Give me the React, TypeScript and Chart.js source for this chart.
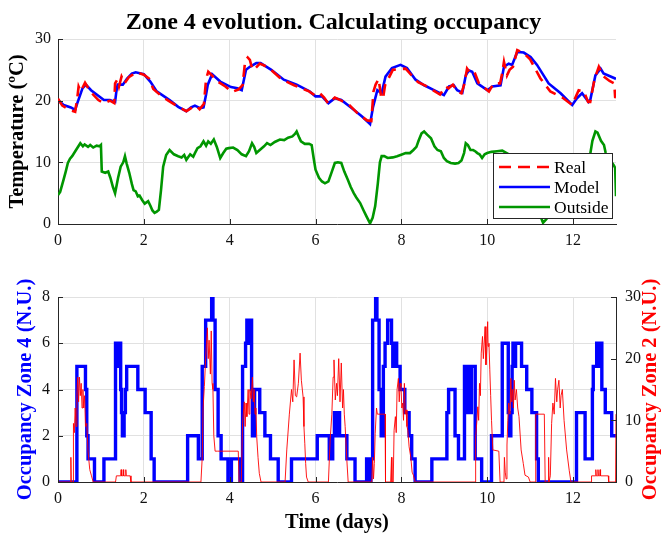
import React, { useEffect, useRef } from "react";
import { Chart, registerables } from "chart.js";

Chart.register(...registerables);

const FONT = "'Liberation Serif', 'Times New Roman', Times, serif";

// ---------- Top plot: temperatures (days, ºC) ----------
const modelDays = [
  0, 0.13, 0.3, 0.4, 0.45, 0.57, 0.65, 0.77, 0.9, 1.07,
  1.21, 1.33, 1.36, 1.39, 1.51, 1.61, 1.72, 1.81, 2.0, 2.15,
  2.3, 2.6, 2.8, 2.99, 3.1, 3.19, 3.31, 3.39, 3.45, 3.49,
  3.59, 3.78, 4.03, 4.18, 4.28, 4.38, 4.47, 4.62, 4.72, 4.97,
  5.26, 5.56, 5.86, 6.0, 6.15, 6.3, 6.45, 6.6, 6.84, 7.09,
  7.24, 7.27, 7.34, 7.44, 7.54, 7.63, 7.78, 7.98, 8.13, 8.33,
  8.53, 8.76, 8.99, 9.11, 9.22, 9.3, 9.42, 9.5, 9.57, 9.65,
  9.77, 10.0, 10.12, 10.31, 10.39, 10.5, 10.58, 10.7, 10.85, 11.01,
  11.16, 11.43, 11.71, 11.98, 12.09, 12.21, 12.36, 12.4, 12.52, 12.64,
  12.71, 12.98, 13.0,
];
const modelTemp = [
  20.1, 19.3, 18.9, 18.5, 19.6, 22.0, 22.6, 21.7, 21.0, 20.1,
  20.1, 19.8, 21.5, 22.6, 22.6, 23.6, 24.4, 24.6, 24.3, 23.1,
  21.5, 20.1, 19.0, 18.3, 18.9, 19.2, 18.8, 18.9, 21.0, 22.6,
  24.3, 23.1, 22.2, 22.0, 21.7, 25.0, 25.5, 26.1, 26.1, 25.0,
  23.4, 22.6, 21.5, 20.7, 20.7, 19.6, 20.4, 20.1, 18.8, 17.4,
  16.4, 16.2, 19.0, 21.7, 21.2, 23.9, 25.3, 25.8, 25.3, 23.4,
  22.5, 21.7, 20.9, 22.3, 22.5, 21.7, 21.3, 24.1, 24.9, 24.7,
  22.8, 21.7, 22.3, 22.5, 25.5, 26.0, 25.8, 27.9, 27.8, 27.1,
  25.8, 22.8, 21.2, 19.3, 20.4, 21.2, 19.8, 20.1, 24.1, 25.2,
  24.4, 23.6, 23.5,
];

const realDays = [
  0, 0.1, 0.3, 0.4, 0.45, 0.48, 0.53, 0.63, 0.75, 0.94,
  1.07, 1.21, 1.31, 1.33, 1.38, 1.42, 1.48, 1.55, 1.65, 1.83,
  2.0, 2.12, 2.22, 2.4, 2.57, 2.8, 2.99, 3.15, 3.22, 3.3,
  3.4, 3.45, 3.5, 3.57, 3.74, 3.9, 4.05, 4.2, 4.3, 4.36,
  4.42, 4.47, 4.53, 4.59, 4.7, 4.9, 5.2, 5.5, 5.85, 6.0,
  6.1, 6.2, 6.3, 6.45, 6.6, 6.77, 7.0, 7.2, 7.3, 7.35,
  7.4, 7.47, 7.53, 7.57, 7.62, 7.8, 8.1, 8.25, 8.39, 8.6,
  8.9, 9.03, 9.1, 9.2, 9.3, 9.4, 9.47, 9.53, 9.6, 9.7,
  9.8, 10.04, 10.15, 10.3, 10.35, 10.39, 10.46, 10.52, 10.6, 10.7,
  10.85, 11.0, 11.24, 11.47, 11.75, 11.98, 12.13, 12.25, 12.35, 12.4,
  12.5, 12.6, 12.7, 12.85, 12.96, 12.98, 13.0,
];
const realTemp = [
  20.3, 19.2, 18.4, 18.2, 20.5, 22.3, 21.5, 22.9, 21.5, 20.1,
  19.6, 20.0, 19.6, 22.8, 23.4, 22.3, 23.9, 22.8, 23.8, 24.6,
  24.2, 23.6, 21.9, 20.8, 20.0, 19.0, 18.3, 19.0, 19.2, 18.6,
  19.5, 23.5, 24.7, 24.2, 23.0, 22.3, 21.4, 21.8, 22.5, 26.4,
  27.0, 26.6, 25.0, 25.2, 26.0, 25.4, 23.5, 22.5, 21.5, 20.8,
  21.2, 20.5, 19.5, 20.5, 20.0, 19.4, 17.8, 16.8, 16.7, 21.5,
  22.6, 23.5, 20.5, 20.3, 22.5, 25.0, 25.2, 24.0, 23.0, 22.3,
  21.0, 22.3, 22.0, 22.6, 21.5, 21.2, 22.8, 25.2, 24.5, 24.7,
  22.9, 21.5, 22.8, 22.8, 24.5, 26.3, 24.1, 25.0, 25.5, 28.2,
  27.7, 26.7, 23.6, 21.5, 20.5, 19.3, 21.7, 21.5, 19.8, 19.8,
  23.5, 25.5, 24.0, 23.2, 22.8, 20.6, 20.5,
];

const outsideDays = [
  0, 0.05, 0.13, 0.18, 0.23, 0.28, 0.33, 0.42, 0.52, 0.58,
  0.62, 0.7, 0.75, 0.82, 0.9, 0.97, 1.0, 1.02, 1.1, 1.17,
  1.22, 1.28, 1.33, 1.4, 1.46, 1.52, 1.56, 1.6, 1.66, 1.72,
  1.76, 1.81, 1.86, 1.9, 1.96, 2.02, 2.1, 2.15, 2.2, 2.25,
  2.3, 2.35, 2.4, 2.45, 2.52, 2.6, 2.7, 2.8, 2.88, 2.94,
  2.99, 3.08, 3.15, 3.19, 3.25, 3.32, 3.39, 3.45, 3.5, 3.56,
  3.63, 3.7, 3.78, 3.85, 3.92, 3.98, 4.08, 4.18, 4.28, 4.38,
  4.45, 4.52, 4.57, 4.62, 4.7, 4.8, 4.87, 4.95, 5.05, 5.17,
  5.27, 5.36, 5.46, 5.52, 5.56, 5.62, 5.66, 5.75, 5.85, 5.91,
  5.96, 6.0, 6.08, 6.15, 6.22, 6.3, 6.38, 6.45, 6.52, 6.6,
  6.67, 6.75, 6.82, 6.89, 6.95, 7.04, 7.12, 7.19, 7.27, 7.33,
  7.39, 7.45, 7.5, 7.54, 7.6, 7.68, 7.8, 7.9, 7.98, 8.1,
  8.2, 8.28, 8.35, 8.4, 8.47, 8.53, 8.6, 8.69, 8.77, 8.84,
  8.92, 8.99, 9.06, 9.15, 9.25, 9.33, 9.4, 9.46, 9.5, 9.55,
  9.61, 9.67, 9.72, 9.77, 9.82, 9.88, 9.94, 10.0, 10.1, 10.23,
  10.35, 10.5, 10.7, 10.9, 11.1, 11.2, 11.3, 11.38, 11.5, 11.7,
  11.9, 12.1, 12.3, 12.38, 12.45, 12.52, 12.57, 12.65, 12.72, 12.76,
  12.82, 12.88, 12.95, 12.98, 13.0,
];
const outsideTemp = [
  4.7, 5.2, 7.2, 8.5, 9.9, 10.6, 11.0, 12.0, 13.1, 12.6,
  12.9, 12.5, 12.8, 12.4, 12.7, 12.6, 12.8, 8.5, 8.3, 8.5,
  7.5, 6.0, 5.0, 7.5, 9.3, 10.0, 11.0, 9.8, 8.3, 6.5,
  5.5, 5.3, 4.5, 4.6, 3.9, 3.3, 3.7, 3.0, 2.2, 1.8,
  2.0, 2.3, 5.5, 9.3, 11.2, 12.0, 11.3, 11.0, 10.8, 11.2,
  10.4, 11.3, 10.9, 11.5, 12.3, 12.6, 13.4, 12.7, 13.4, 13.0,
  13.7, 12.5, 10.7, 11.5, 12.2, 12.3, 12.4, 12.0, 11.3, 11.0,
  11.8, 13.1, 12.5, 11.5, 12.0, 12.6, 13.1, 12.8, 13.3, 13.7,
  13.6, 14.0, 14.2, 14.6, 15.0, 14.0, 13.4, 13.0, 13.0, 12.8,
  10.5, 8.8, 7.5, 6.9, 6.6, 6.9, 8.5, 9.9, 10.0, 9.9,
  8.5, 7.2, 6.0, 5.0, 4.3, 3.4, 2.2, 1.2, 0.1, 1.0,
  2.9, 6.5, 10.0, 11.0, 11.0, 10.7, 10.8, 11.0, 11.2, 11.5,
  11.5, 12.0, 12.5, 13.5, 14.7, 15.0, 14.5, 13.9, 12.6, 12.0,
  11.8, 10.7, 10.2, 9.9, 9.8, 9.9, 10.3, 11.5, 13.1, 12.8,
  12.0, 12.0, 11.8, 11.5, 11.3, 10.7, 11.3, 11.5, 11.7, 11.8,
  11.9, 11.3, 9.5, 7.0, 4.0, 2.0, 0.2, 0.8, 3.0, 5.5,
  7.5, 8.8, 9.5, 10.5, 13.5, 15.0, 14.8, 13.5, 12.8, 11.5,
  10.8, 10.2, 9.5, 9.1, 4.5,
];

// ---------- Bottom plot: occupancies ----------
// Zone 4: value holds from each change time until the next one
const zone4Days = [
  0, 0.44, 0.64, 0.67, 0.7, 0.85, 1.07, 1.34, 1.37, 1.39,
  1.42, 1.44, 1.46, 1.48, 1.5, 1.54, 1.57, 1.6, 1.86, 2.03,
  2.17, 2.24, 3.02, 3.27, 3.36, 3.44, 3.58, 3.61, 3.66, 3.73,
  3.8, 3.96, 4.04, 4.24, 4.3, 4.37, 4.4, 4.47, 4.49, 4.51,
  4.53, 4.58, 4.7, 4.82, 4.95, 5.13, 5.44, 6.04, 6.32, 6.4,
  6.44, 6.48, 6.52, 6.56, 6.73, 6.92, 7.19, 7.22, 7.24, 7.27,
  7.29, 7.33, 7.4, 7.43, 7.48, 7.53, 7.58, 7.62, 7.68, 7.77,
  7.8, 7.82, 7.84, 7.86, 7.89, 7.97, 8.08, 8.18, 8.24, 8.32,
  8.71, 9.06, 9.1, 9.25, 9.33, 9.47, 9.5, 9.52, 9.55, 9.58,
  9.6, 9.63, 9.72, 9.87, 10.1, 10.35, 10.49, 10.52, 10.55, 10.58,
  10.6, 10.64, 10.66, 10.8, 10.92, 11.04, 11.15, 11.19, 12.08, 12.28,
  12.45, 12.47, 12.55, 12.58, 12.61, 12.67, 12.75, 12.9, 13.0,
];
const zone4Occ = [
  0, 5, 4, 2, 1, 0, 1, 6, 5, 6,
  5, 6, 4, 3, 2, 3, 4, 5, 4, 3,
  1, 0, 2, 1, 5, 7, 8, 7, 4, 2,
  1, 0, 1, 0, 5, 6, 7, 6, 7, 4,
  2, 4, 3, 2, 1, 0, 1, 2, 1, 2,
  3, 2, 3, 2, 1, 0, 1, 0, 1, 0,
  1, 7, 8, 7, 4, 2, 5, 6, 7, 6,
  5, 6, 5, 6, 5, 4, 3, 2, 1, 0,
  1, 3, 4, 2, 1, 5, 3, 5, 3, 5,
  3, 5, 1, 0, 2, 6, 3, 2, 3, 5,
  6, 5, 6, 5, 4, 3, 1, 0, 3, 1,
  4, 5, 6, 5, 6, 4, 3, 2, 2,
];

const zone2Days = [
  0, 0.28, 0.3, 0.31, 0.35, 0.36, 0.38, 0.4, 0.42, 0.44,
  0.46, 0.48, 0.5, 0.52, 0.54, 0.56, 0.58, 0.6, 0.62, 0.64,
  0.67, 0.7, 0.74, 0.78, 0.82, 1.34, 1.36, 1.46, 1.47, 1.48,
  1.51, 1.52, 1.53, 1.57, 1.58, 1.59, 1.68, 1.7, 3.33, 3.36,
  3.38, 3.41, 3.44, 3.46, 3.48, 3.5, 3.52, 3.55, 3.57, 3.59,
  3.61, 3.63, 3.66, 3.72, 4.2, 4.22, 4.27, 4.3, 4.34, 4.36,
  4.38, 4.4, 4.43, 4.45, 4.47, 4.5, 4.53, 4.55, 4.57, 4.59,
  4.61, 4.63, 4.66, 4.69, 4.73, 5.29, 5.33, 5.39, 5.44, 5.47,
  5.5, 5.53, 5.56, 5.6, 5.64, 5.67, 5.71, 5.73, 5.75, 5.77,
  5.79, 5.83, 6.3, 6.34, 6.38, 6.41, 6.43, 6.46, 6.49, 6.51,
  6.54, 6.57, 6.6, 6.63, 6.65, 6.67, 6.69, 6.73, 6.76, 7.31,
  7.33, 7.35, 7.37, 7.39, 7.42, 7.44, 7.62, 7.63, 7.75, 7.77,
  7.78, 7.81, 7.83, 7.86, 7.88, 7.9, 7.93, 7.95, 7.97, 7.99,
  8.01, 8.03, 8.05, 8.07, 8.09, 8.11, 8.13, 8.15, 8.18, 8.22,
  8.25, 8.28, 8.32, 9.72, 9.73, 9.76, 9.78, 9.8, 9.82, 9.84,
  9.86, 9.89, 9.91, 9.93, 9.95, 9.97, 9.99, 10.01, 10.02, 10.04,
  10.06, 10.08, 10.1, 10.13, 10.27, 10.3, 10.39, 10.4, 10.42, 10.44,
  10.46, 10.48, 10.5, 10.53, 10.55, 10.57, 10.59, 10.61, 10.63, 10.65,
  10.68, 10.71, 10.74, 10.79, 10.84, 10.88, 10.96, 11.0, 11.12, 11.13,
  11.33, 11.35, 11.42, 11.43, 11.44, 11.47, 11.5, 11.53, 11.56, 11.59,
  11.62, 11.64, 11.67, 11.7, 11.72, 11.75, 11.79, 11.85, 11.91, 11.95,
  12.42, 12.43, 12.52, 12.53, 12.54, 12.57, 12.58, 12.59, 12.62, 12.63,
  12.64, 12.82, 12.83, 12.99, 13.0,
];
const zone2Occ = [
  0, 0, 4, 0, 0, 9.5, 8, 12, 9, 14,
  17, 13, 17, 14, 16, 12, 15, 12, 14, 9,
  9.5, 5, 2, 1, 0, 0, 1, 1, 2, 1,
  1, 2, 1, 1, 2, 1, 1, 0, 0, 4,
  12, 15.5, 20, 22.5, 25, 20, 23, 17.5, 24.5, 16,
  15, 7.5, 5, 5, 5, 0, 0, 9.5, 13, 9,
  12.8, 10.6, 15, 11, 15, 13.5, 17, 13, 15, 11,
  12, 7.3, 4, 1.4, 0, 0, 5.2, 11, 15, 13,
  19.8, 14, 13.8, 16, 20.9, 16.5, 13.8, 9, 6.2, 3,
  0.8, 0, 0, 6.8, 11, 17, 19.8, 13.3, 16, 14,
  20, 13, 19.3, 12, 15, 11, 9, 3.5, 0, 0,
  4, 0.5, 3, 7.9, 12, 11, 11, 0, 0, 4,
  0, 0, 8.4, 10.6, 8, 15, 16.8, 13, 16, 15.5,
  12, 12.8, 10, 16, 11, 11.7, 9, 8.4, 5.7, 4,
  1.6, 1.1, 0, 0, 7.3, 10, 12.2, 10, 16, 14,
  20.9, 23.6, 20, 22.5, 25.2, 19, 21.4, 26, 22, 22.5,
  18.2, 14, 10, 5.2, 5, 0, 0, 4, 1.6, 0.5,
  6, 10, 12.8, 11, 16.8, 13, 15, 12, 16.5, 13.3,
  15, 12, 10.6, 5.2, 3, 1.1, 0.8, 0, 0, 11,
  11, 0, 0, 4, 0, 1, 9.5, 12.8, 11, 16.8,
  13, 15, 16.5, 12, 14, 15, 10, 5.2, 1.9, 0,
  0, 1, 1, 2, 1, 1, 2, 1, 1, 2,
  1, 1, 0, 0, 11,
];

const dayTicksStep = 2;
const tempTicksStep = 10;
const zone4TicksStep = 2;
const zone2TicksStep = 10;

const pairs = (xs: number[], ys: number[]) => xs.map((x, i) => ({ x, y: ys[i] }));

const AXIS = "#262626";
const GRID = "#e1e1e1";

const inwardTicks = {
  id: "inwardTicks",
  afterDatasetsDraw(chart: any) {
    const { ctx, chartArea: a } = chart;
    ctx.save();
    ctx.strokeStyle = AXIS;
    ctx.lineWidth = 1;
    ctx.beginPath();
    Object.values(chart.scales).forEach((s: any) => {
      if (!s.options.ticks.display) return;
      s.ticks.forEach((t: any) => {
        const p = Math.round(s.getPixelForValue(t.value)) + 0.5;
        if (s.axis === "x") {
          ctx.moveTo(p, a.bottom);
          ctx.lineTo(p, a.bottom - 5);
        } else if (s.position === "left") {
          ctx.moveTo(a.left, p);
          ctx.lineTo(a.left + 5, p);
        } else {
          ctx.moveTo(a.right, p);
          ctx.lineTo(a.right - 5, p);
        }
      });
    });
    ctx.stroke();
    ctx.restore();
  },
};

const legendBox = {
  id: "legendBox",
  afterDraw(chart: any, _args: any, o: any) {
    if (!o || !o.show) return;
    const { ctx, chartArea: a } = chart;
    const w = 119;
    const h = 65;
    const x0 = Math.round(a.right - 4 - w);
    const y0 = Math.round(a.bottom - 6 - h);
    ctx.save();
    ctx.fillStyle = "#ffffff";
    ctx.fillRect(x0, y0, w, h);
    ctx.strokeStyle = AXIS;
    ctx.lineWidth = 1;
    ctx.strokeRect(x0 + 0.5, y0 + 0.5, w, h);
    chart.data.datasets.forEach((ds: any, i: number) => {
      const cy = y0 + 14 + i * 20;
      ctx.setLineDash(ds.borderDash || []);
      ctx.strokeStyle = ds.borderColor;
      ctx.lineWidth = ds.borderWidth;
      ctx.beginPath();
      ctx.moveTo(x0 + 6, cy);
      ctx.lineTo(x0 + 57, cy);
      ctx.stroke();
      ctx.setLineDash([]);
      ctx.fillStyle = "#000000";
      ctx.font = `17.5px ${FONT}`;
      ctx.textAlign = "left";
      ctx.textBaseline = "middle";
      ctx.fillText(ds.label, x0 + 61, cy + 1);
    });
    ctx.restore();
  },
};

const sideTitle = {
  id: "sideTitle",
  afterDraw(chart: any, _args: any, o: any) {
    if (!o || !o.text) return;
    const { ctx, chartArea: a } = chart;
    ctx.save();
    ctx.translate(a.right + 35, (a.top + a.bottom) / 2);
    ctx.rotate(-Math.PI / 2);
    ctx.font = `bold 20.5px ${FONT}`;
    ctx.fillStyle = o.color;
    ctx.textAlign = "center";
    ctx.textBaseline = "middle";
    ctx.fillText(o.text, 0, 0);
    ctx.restore();
  },
};

const tickFont = { family: FONT, size: 16 };
const titleFont = { family: FONT, size: 20.5, weight: "bold" as const, lineHeight: 1 };

function xScale(height: number, withTitle: boolean) {
  return {
    type: "linear" as const,
    min: 0,
    max: 13,
    ticks: { stepSize: dayTicksStep, includeBounds: false, font: tickFont, color: "#111", padding: 7, maxRotation: 0 },
    grid: { color: GRID, lineWidth: 1, drawTicks: false },
    border: { color: AXIS, width: 1 },
    title: withTitle
      ? { display: true, text: "Time (days)", font: titleFont, color: "#000", padding: { top: 0, bottom: 0 } }
      : { display: false },
    afterFit: (s: any) => {
      s.height = height;
    },
  };
}

export default function App() {
  const topRef = useRef<HTMLCanvasElement | null>(null);
  const botRef = useRef<HTMLCanvasElement | null>(null);

  useEffect(() => {
    const top = new Chart(topRef.current as HTMLCanvasElement, {
      type: "line",
      data: {
        datasets: [
          {
            label: "Real",
            data: pairs(realDays, realTemp),
            borderColor: "#ff0000",
            borderWidth: 2.6,
            borderDash: [12, 7],
            pointRadius: 0,
            tension: 0,
          },
          {
            label: "Model",
            data: pairs(modelDays, modelTemp),
            borderColor: "#0000ff",
            borderWidth: 2.6,
            pointRadius: 0,
            tension: 0,
          },
          {
            label: "Outside",
            data: pairs(outsideDays, outsideTemp),
            borderColor: "#009600",
            borderWidth: 2.6,
            pointRadius: 0,
            tension: 0,
          },
        ],
      },
      options: {
        animation: false,
        responsive: false,
        devicePixelRatio: 1,
        events: [],
        layout: { padding: { left: 0, right: 0, top: 0, bottom: 0 } },
        plugins: {
          legend: { display: false },
          tooltip: { enabled: false },
          title: {
            display: true,
            text: "Zone 4 evolution. Calculating occupancy",
            font: { family: FONT, size: 24, weight: "bold", lineHeight: 1.2 },
            color: "#000",
            padding: { top: 8, bottom: 2.2 },
          },
          legendBox: { show: true },
        } as any,
        scales: {
          x: xScale(36, false),
          y: {
            min: 0,
            max: 30,
            ticks: { stepSize: tempTicksStep, font: tickFont, color: "#111", padding: 7 },
            grid: { color: GRID, lineWidth: 1, drawTicks: false },
            border: { color: AXIS, width: 1 },
            title: {
              display: true,
              text: "Temperature (ºC)",
              font: titleFont,
              color: "#000",
              padding: { top: 7.75, bottom: 0 },
            },
            afterFit: (s: any) => {
              s.width = 58;
            },
          },
          yRightSpace: {
            position: "right",
            min: 0,
            max: 30,
            ticks: { display: false },
            grid: { display: false, drawTicks: false },
            border: { display: false },
            afterFit: (s: any) => {
              s.width = 51;
            },
          },
        } as any,
      },
      plugins: [inwardTicks, legendBox],
    });

    const bot = new Chart(botRef.current as HTMLCanvasElement, {
      type: "line",
      data: {
        datasets: [
          {
            label: "Occupancy Zone 2",
            data: pairs(zone2Days, zone2Occ),
            yAxisID: "y2",
            borderColor: "rgba(255,0,0,0.9)",
            borderWidth: 1,
            pointRadius: 0,
            tension: 0,
          },
          {
            label: "Occupancy Zone 4",
            data: pairs(zone4Days, zone4Occ),
            yAxisID: "y",
            borderColor: "#0000ff",
            borderWidth: 3.4,
            stepped: true,
            pointRadius: 0,
          },
        ],
      },
      options: {
        animation: false,
        responsive: false,
        devicePixelRatio: 1,
        events: [],
        layout: { padding: { left: 0, right: 0, top: 37, bottom: 0 } },
        plugins: {
          legend: { display: false },
          tooltip: { enabled: false },
          title: { display: false },
          sideTitle: { text: "Occupancy Zone 2 (N.U.)", color: "#ff0000" },
        } as any,
        scales: {
          x: xScale(51, true),
          y: {
            position: "left",
            min: 0,
            max: 8,
            ticks: { stepSize: zone4TicksStep, font: tickFont, color: "#111", padding: 8 },
            grid: { color: GRID, lineWidth: 1, drawTicks: false },
            border: { color: AXIS, width: 1 },
            title: {
              display: true,
              text: "Occupancy Zone 4 (N.U.)",
              font: titleFont,
              color: "#0000ff",
              padding: { top: 15.75, bottom: 0 },
            },
            afterFit: (s: any) => {
              s.width = 58;
            },
          },
          y2: {
            position: "right",
            min: 0,
            max: 30,
            ticks: { stepSize: zone2TicksStep, font: tickFont, color: "#111", padding: 9 },
            grid: { drawOnChartArea: false, drawTicks: false },
            border: { color: AXIS, width: 1 },
            afterFit: (s: any) => {
              s.width = 51;
            },
          },
        } as any,
      },
      plugins: [inwardTicks, sideTitle],
    });

    return () => {
      top.destroy();
      bot.destroy();
    };
  }, []);

  return (
    <div style={{ position: "absolute", left: 0, top: 0, width: 667, height: 533, background: "#ffffff" }}>
      <canvas ref={topRef} width={667} height={260} style={{ display: "block", width: 667, height: 260 }} />
      <canvas ref={botRef} width={667} height={273} style={{ display: "block", width: 667, height: 273 }} />
    </div>
  );
}
